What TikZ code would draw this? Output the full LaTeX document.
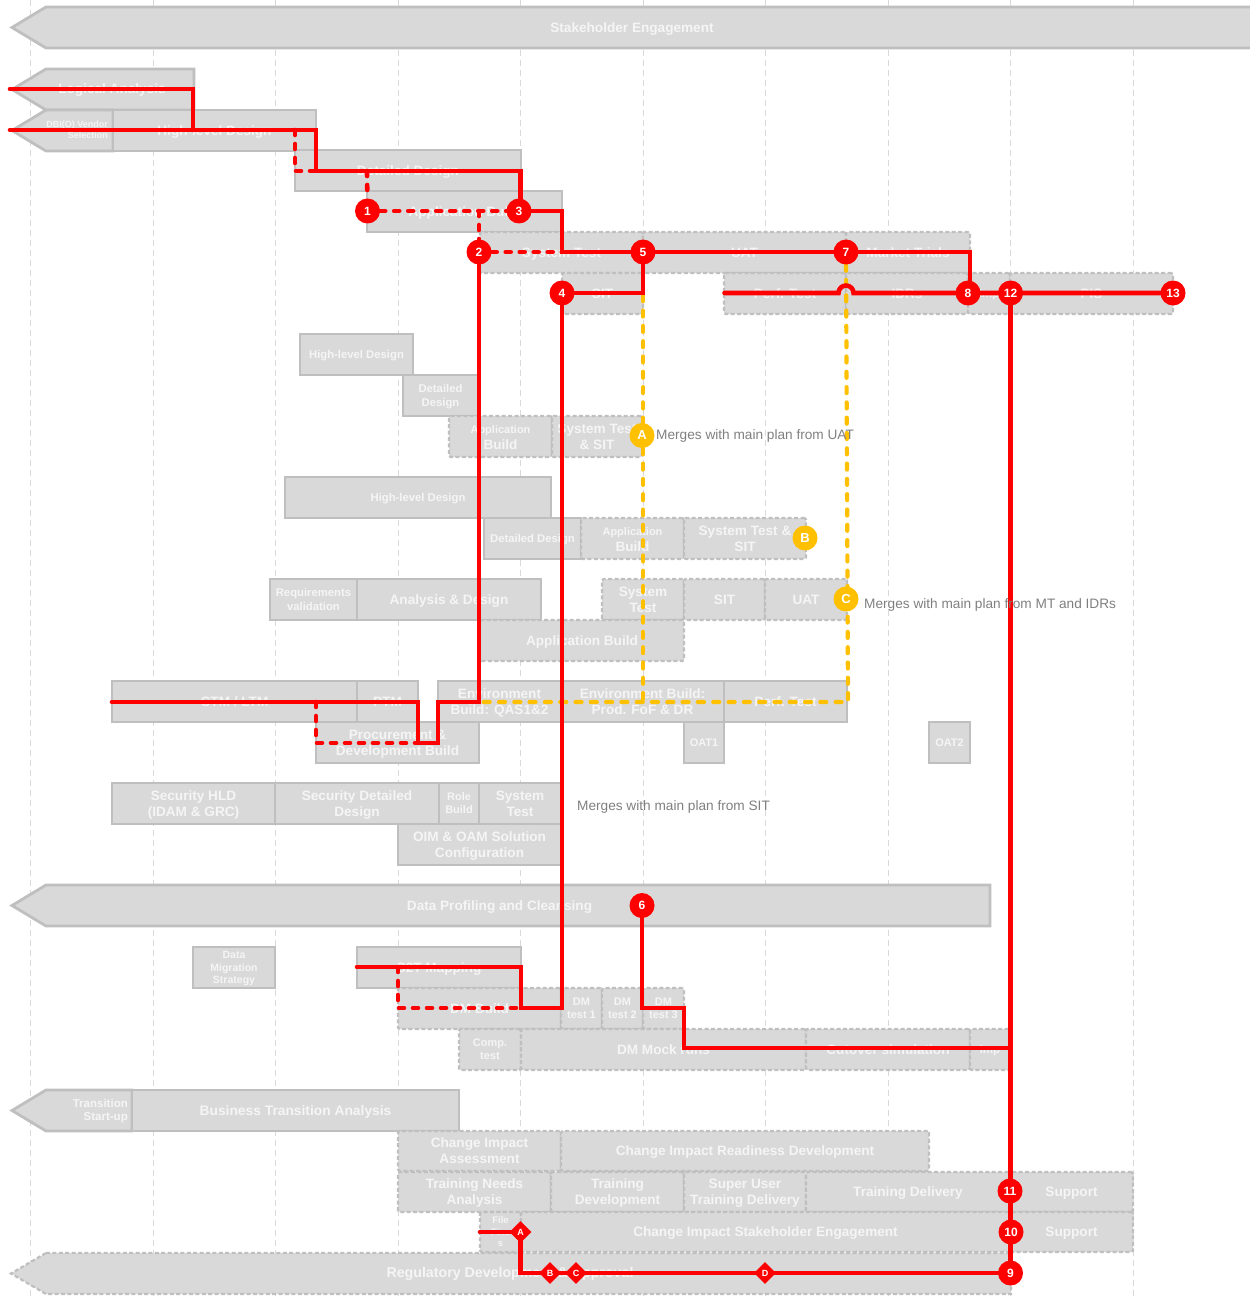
\documentclass[tikz,border=0pt]{standalone}
\usepackage{fontspec}
\setmainfont{Liberation Sans}
\usetikzlibrary{shapes.geometric,backgrounds}
\definecolor{boxfill}{HTML}{D9D9D9}
\definecolor{boxline}{HTML}{BFBFBF}
\definecolor{boxtext}{HTML}{F5F5F5}
\definecolor{gridc}{HTML}{D9D9D9}
\definecolor{mainred}{HTML}{FF0000}
\definecolor{amber}{HTML}{FFC000}
\definecolor{note}{HTML}{7F7F7F}
\pgfdeclarelayer{gridlayer}
\pgfdeclarelayer{boxlayer}
\pgfdeclarelayer{amberlayer}
\pgfdeclarelayer{redlayer}
\pgfsetlayers{gridlayer,boxlayer,amberlayer,redlayer,main}
\tikzset{
  solidbox/.style={draw=boxline,fill=boxfill,line width=2.8pt,line join=miter,inner sep=0pt,text=boxtext,font=\bfseries,align=center},
  dashbox/.style={draw=boxline,fill=boxfill,line width=2.2pt,dash pattern=on 4pt off 2.4pt,rounded corners=1.5pt,inner sep=0pt,text=boxtext,font=\bfseries,align=center},
  arrowlabel/.style={text=boxtext,inner sep=0pt,align=center},
  redmark/.style={circle,fill=mainred,text=white,inner sep=0pt,minimum size=25pt,font=\bfseries\fontsize{12}{12}\selectfont},
  ambermark/.style={circle,fill=amber,text=white,inner sep=0pt,minimum size=25pt,font=\bfseries\fontsize{13}{13}\selectfont},
  reddiamond/.style={diamond,fill=mainred,text=white,inner sep=0pt,minimum size=22pt,shape aspect=0.85,font=\bfseries\fontsize{9}{9}\selectfont},
  redline/.style={draw=mainred,line width=4.6pt,line join=miter,line cap=round},
  reddash/.style={draw=mainred,line width=4.6pt,line cap=round,dash pattern=on 5pt off 9pt},
  amberdash/.style={draw=amber,line width=4.2pt,line cap=round,dash pattern=on 6pt off 9.3pt},
  gridline/.style={draw=gridc,line width=0.8pt,dash pattern=on 6pt off 4pt},
  notetext/.style={text=note,font=\fontsize{13.65}{14}\selectfont,anchor=west,inner sep=0pt},
  arrowshape/.style={draw=boxline,line width=2.8pt,line join=miter,fill=boxfill},
}
\newcommand{\boxtxt}[1]{\rule{0pt}{1em}#1\rule[-.3em]{0pt}{0pt}}
% style, name, x1, x2, y1, y2, font size, text
\newcommand{\tbox}[8]{%
  \pgfmathsetmacro{\tbw}{#4-#3}\pgfmathsetmacro{\tbh}{#6-#5}%
  \pgfmathsetmacro{\tbx}{(#3+#4)/2}\pgfmathsetmacro{\tby}{(#5+#6)/2}%
  \pgfmathsetmacro{\tbl}{#7*1.2}%
  \node[#1,minimum width=\tbw pt,minimum height=\tbh pt,
        font=\bfseries\fontsize{#7}{\tbl}\selectfont] (#2) at (\tbx,\tby) {\boxtxt{#8}};}
% xright, y1, y2 : left-pointing shape
\newcommand{\tarrow}[3]{%
  \pgfmathsetmacro{\tam}{(#2+#3)/2}%
  \path[arrowshape] (46,#2) -- (#1,#2) -- (#1,#3) -- (46,#3) -- (12,\tam) -- cycle;}
\begin{document}
\begin{tikzpicture}[x=1pt,y=-1pt]
\useasboundingbox (0,0) rectangle (1249,1297);

\begin{pgfonlayer}{gridlayer}
\foreach \gx/\gn in {30/a,153/b,275/c,398/d,520/e,643/f,765/g,888/h,1010/i,1133/j}{
  \coordinate (gt\gn) at (\gx,0);
  \coordinate (gb\gn) at (\gx,1297);
  \draw[gridline] (gt\gn) -- (gb\gn);
}
\end{pgfonlayer}

\begin{pgfonlayer}{boxlayer}
\fill[white] (399,1213) rectangle (479,1252);
% arrows
\tarrow{1262}{7}{48}
\node[arrowlabel,font=\bfseries\fontsize{13.6}{16}\selectfont] (stake) at (632,27.5) {\boxtxt{Stakeholder Engagement}};
\tarrow{194}{69}{110}
\node[arrowlabel,font=\bfseries\fontsize{13.6}{16}\selectfont] (logical) at (112,89) {\boxtxt{Logical Analysis}};
\tarrow{113}{110}{151}
\node[arrowlabel,font=\bfseries\fontsize{9}{11}\selectfont,align=right,anchor=east] (dbio) at (108,130) {\boxtxt{DBI(O) Vendor\\Selection}};
\tarrow{990}{885}{926}
\node[arrowlabel,font=\bfseries\fontsize{13.6}{16}\selectfont] (profiling) at (499.5,905.5) {\boxtxt{Data Profiling and Cleansing}};
\tarrow{132}{1090}{1131}
\node[arrowlabel,font=\bfseries\fontsize{11.5}{13.5}\selectfont,align=right,anchor=east] (transit) at (128,1110) {\boxtxt{Transition\\Start-up}};
\path[draw=boxline,line width=2.2pt,dash pattern=on 4pt off 2.4pt,fill=boxfill] (46,1253) -- (1011,1253) -- (1011,1294) -- (46,1294) -- (11,1273.5) -- cycle;
\node[arrowlabel,font=\bfseries\fontsize{14.2}{16}\selectfont] (regdev) at (510,1273) {\boxtxt{Regulatory Development \& Approval}};

% main plan stairs
\tbox{solidbox}{hld}{113}{316}{110}{151}{13.6}{High-level Design}
\tbox{solidbox}{dd}{295}{521}{150}{191}{13.6}{Detailed Design}
\tbox{solidbox}{ab}{367}{562}{191}{232}{13.6}{Application Build}
\tbox{dashbox}{st}{480}{643}{232}{273}{13.6}{System Test}
\tbox{dashbox}{uat}{643}{846}{232}{273}{13.6}{UAT}
\tbox{dashbox}{mt}{846}{970}{232}{273}{13.6}{Market Trials}
\tbox{dashbox}{sit}{562}{643}{273}{314}{13.6}{SIT}
\tbox{dashbox}{perf}{724}{846}{273}{314}{13.6}{Perf. Test}
\tbox{dashbox}{idr}{846}{968}{273}{314}{13.6}{IDRs}
\tbox{dashbox}{imp}{968}{1010}{273}{314}{11.5}{Imp}
\tbox{dashbox}{pis}{1010}{1173}{273}{314}{13.6}{PIS}

% block A
\tbox{solidbox}{ahld}{300}{413}{334}{375}{11.3}{High-level Design}
\tbox{solidbox}{add}{403}{478}{375}{416}{11.3}{Detailed\\Design}
\tbox{dashbox}{aab}{449}{552}{416}{457}{13.6}{{\fontsize{11}{13}\selectfont Application}\\Build}
\tbox{dashbox}{ast}{552}{642}{416}{457}{13.6}{System Test\\\& SIT}

% block B
\tbox{solidbox}{bhld}{285}{551}{477}{518}{11.3}{High-level Design}
\tbox{solidbox}{bdd}{484}{581}{518}{559}{11.3}{Detailed Design}
\tbox{dashbox}{bab}{581}{684}{518}{559}{13.6}{{\fontsize{11}{13}\selectfont Application}\\Build}
\tbox{dashbox}{bst}{684}{806}{518}{559}{13.6}{System Test \&\\SIT}

% block C
\tbox{solidbox}{creq}{270}{357}{579}{620}{11.3}{Requirements\\validation}
\tbox{solidbox}{cad}{357}{541}{579}{620}{13.6}{Analysis \& Design}
\tbox{dashbox}{cst}{602}{684}{579}{620}{13.6}{System\\Test}
\tbox{dashbox}{csit}{684}{765}{579}{620}{13.6}{SIT}
\tbox{dashbox}{cuat}{765}{847}{579}{620}{13.6}{UAT}
\tbox{dashbox}{cab}{480}{684}{620}{661}{13.6}{Application Build}

% environment
\tbox{solidbox}{ctm}{112}{357}{681}{722}{13.6}{CTM / LTM}
\tbox{solidbox}{ptm}{357}{418}{681}{722}{13.6}{PTM}
\tbox{solidbox}{env1}{438}{561}{681}{722}{13.6}{Environment\\Build: QAS1\&2}
\tbox{solidbox}{env2}{561}{724}{681}{722}{13.6}{Environment Build:\\Prod. FoF \& DR}
\tbox{solidbox}{eperf}{724}{847}{681}{722}{13.6}{Perf. Test}
\tbox{solidbox}{oat1}{684}{724}{722}{763}{11}{OAT1}
\tbox{solidbox}{oat2}{929}{970}{722}{763}{11}{OAT2}
\tbox{solidbox}{proc}{316}{479}{722}{763}{13.6}{Procurement \&\\Development Build}

% security
\tbox{solidbox}{sec1}{112}{275}{783}{824}{13.6}{Security HLD\\(IDAM \& GRC)}
\tbox{solidbox}{sec2}{275}{439}{783}{824}{13.6}{Security Detailed\\Design}
\tbox{solidbox}{role}{439}{479}{783}{824}{11}{Role\\Build}
\tbox{solidbox}{sect}{479}{561}{783}{824}{13.6}{System\\Test}
\tbox{solidbox}{oim}{398}{561}{824}{865}{13.6}{OIM \& OAM Solution\\Configuration}

% data migration
\tbox{solidbox}{dms}{193}{275}{947}{988}{10.5}{Data\\Migration\\Strategy}
\tbox{solidbox}{s2t}{357}{521}{947}{988}{13.6}{S2T Mapping}
\tbox{dashbox}{dmb}{398}{561}{988}{1029}{13.6}{DM Build}
\tbox{dashbox}{dm1}{561}{602}{988}{1029}{11}{DM\\test 1}
\tbox{dashbox}{dm2}{602}{643}{988}{1029}{11}{DM\\test 2}
\tbox{dashbox}{dm3}{643}{684}{988}{1029}{11}{DM\\test 3}
\tbox{dashbox}{comp}{459}{521}{1029}{1070}{11}{Comp.\\test}
\tbox{dashbox}{mock}{521}{806}{1029}{1070}{13.6}{DM Mock runs}
\tbox{dashbox}{cut}{806}{970}{1029}{1070}{13.6}{Cutover simulation}
\tbox{dashbox}{imp2}{970}{1010}{1029}{1070}{11.5}{Imp}

% business transition
\tbox{solidbox}{bta}{132}{459}{1090}{1131}{13.8}{Business Transition Analysis}
\tbox{dashbox}{cia}{398}{561}{1131}{1171}{13.6}{Change Impact\\Assessment}
\tbox{dashbox}{cird}{561}{929}{1131}{1171}{13.6}{Change Impact Readiness Development}
\tbox{dashbox}{tna}{398}{551}{1172}{1212}{13.6}{Training Needs\\Analysis}
\tbox{dashbox}{tdev}{551}{684}{1172}{1212}{13.6}{Training\\Development}
\tbox{dashbox}{sutd}{684}{806}{1172}{1212}{13.6}{Super User\\Training Delivery}
\tbox{dashbox}{tdel}{806}{1010}{1172}{1212}{13.6}{Training Delivery}
\tbox{dashbox}{sup1}{1010}{1133}{1172}{1212}{13.6}{Support}
\tbox{dashbox}{files}{480}{521}{1212}{1252}{9.5}{File\\Fixe\\s}
\tbox{dashbox}{cise}{521}{1010}{1212}{1252}{13.6}{Change Impact Stakeholder Engagement}
\tbox{dashbox}{sup2}{1010}{1133}{1212}{1252}{13.6}{Support}
\end{pgfonlayer}

% notes
\node[notetext] (noteA) at (656,436) {Merges with main plan from UAT};
\node[notetext] (noteC) at (864,604.5) {Merges with main plan from MT and IDRs};
\node[notetext] (noteS) at (577,806.5) {Merges with main plan from SIT};

% markers
\node[redmark] (m1) at (367.5,211) {1};
\node[redmark] (m2) at (479,252) {2};
\node[redmark] (m3) at (519,211) {3};
\node[redmark] (m4) at (562,293) {4};
\node[redmark] (m5) at (643,252) {5};
\node[redmark] (m6) at (642,905.5) {6};
\node[redmark] (m7) at (846,252) {7};
\node[redmark] (m8) at (968,293) {8};
\node[redmark] (m9) at (1010.5,1273) {9};
\node[redmark] (m10) at (1011,1232) {10};
\node[redmark] (m11) at (1010,1191) {11};
\node[redmark] (m12) at (1010.5,293) {12};
\node[redmark] (m13) at (1173,293) {13};
\node[ambermark] (ya) at (642,435.5) {A};
\node[ambermark] (yb) at (805,538) {B};
\node[ambermark] (yc) at (846,599) {C};
\node[reddiamond] (da) at (520.5,1232) {A};
\node[reddiamond] (db) at (550,1273) {B};
\node[reddiamond] (dc) at (576,1273) {C};
\node[reddiamond] (dd2) at (765,1273) {D};

% connector points
\coordinate (la0) at (10,89);
\coordinate (la1) at (193,130);
\coordinate (hl0) at (10,130);
\coordinate (hl1) at (316,171);
\coordinate (hl2) at (295,130);
\coordinate (hl3) at (520.5,211);
\coordinate (dd1) at (367,171);
\coordinate (m3a) at (562,211);
\coordinate (m3b) at (562,252);
\coordinate (m7a) at (970,252);
\coordinate (m8a) at (970,293);
\coordinate (pf0) at (724.5,293);
\coordinate (hop0) at (838.5,293);
\coordinate (ab2) at (479,211);
\coordinate (e1) at (438,702);
\coordinate (e2) at (438,743);
\coordinate (e3) at (418,743);
\coordinate (e4) at (418,702);
\coordinate (e5) at (112,702);
\coordinate (e6) at (316,702);
\coordinate (s1) at (521,1008);
\coordinate (s2) at (521,967);
\coordinate (s3) at (357,967);
\coordinate (s4) at (398,967);
\coordinate (s5) at (398,1008);
\coordinate (k1) at (684,1008);
\coordinate (k2) at (684,1048);
\coordinate (k3) at (1010.5,1048);
\coordinate (f0) at (480,1232);
\coordinate (f1) at (520.5,1273);
\coordinate (y1) at (848,702);
\coordinate (y2) at (480,702);
\coordinate (y3) at (643,702);

\begin{pgfonlayer}{amberlayer}
\draw[amberdash] (m5) -- (y3);
\draw[amberdash] (m7) -- (y1) -- (y2);
\end{pgfonlayer}

\begin{pgfonlayer}{redlayer}
\draw[redline] (la0) -| (la1);
\draw[redline] (hl0) -| (hl1) -| (hl3);
\draw[reddash] (hl2) |- (hl1);
\draw[reddash] (dd1) -- (m1);
\draw[reddash] (m1) -- (m3);
\draw[reddash] (ab2) -- (m2);
\draw[reddash] (m2) -- (m3b);
\draw[redline] (m3.center) -- (m3a) -- (m3b) -- (m5.center) -- (m7.center) -- (m7a) -- (m8a);
\draw[redline] (m4.center) -| (m5.center);
\draw[redline] (pf0) -- (hop0) arc[start angle=180,end angle=0,radius=7.5pt] -- (m8.center) -- (m12.center) -- (m13.center);
\draw[redline] (m12.center) -- (m9.center);
\draw[redline] (m2.center) -- (m2.center |- e1) -- (e1) -- (e2) -- (e3) -- (e4) -- (e5);
\draw[reddash] (e6) |- (e3);
\draw[redline] (m4.center) -- (m4.center |- s1) -- (s1) -- (s2) -- (s3);
\draw[reddash] (s4) -- (s5) -- (s1);
\draw[redline] (m6.center) -- (m6.center |- k1) -- (k1) -- (k2) -- (k3);
\draw[redline] (f0) -- (da.center) -- (f1) -- (db.center) -- (dc.center) -- (dd2.center) -- (m9.center);
\end{pgfonlayer}
\end{tikzpicture}
\end{document}
